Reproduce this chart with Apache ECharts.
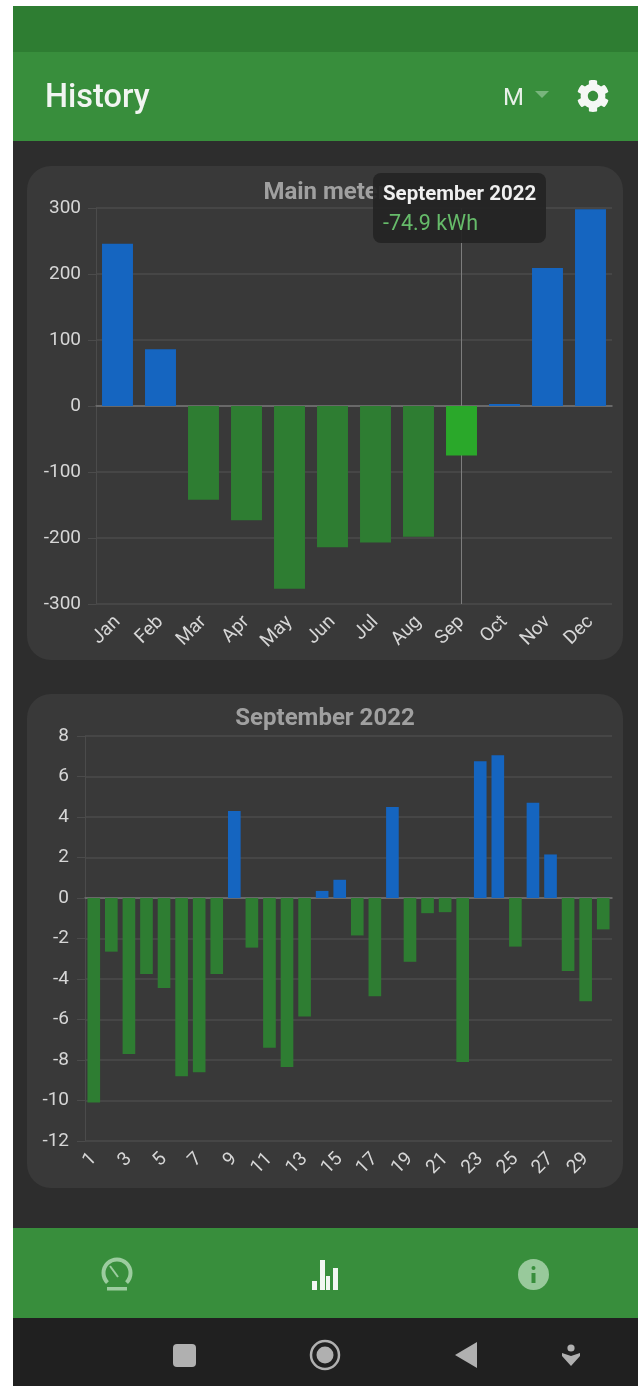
<!DOCTYPE html>
<html><head><meta charset="utf-8">
<style>html,body{margin:0;padding:0;background:#fff}#c{width:638px;height:1386px}</style>
<script src="https://cdn.jsdelivr.net/npm/echarts@6/dist/echarts.min.js"></script>
</head><body><div id="c"></div>
<script>
const monthLabels = ['Jan','Feb','Mar','Apr','May','Jun','Jul','Aug','Sep','Oct','Nov','Dec'];
const monthValues = [246,86,-142,-173,-277,-214,-207,-198,-74.9,3,209,298];
const selectedMonth = 8;
const dayLabels = ['1','2','3','4','5','6','7','8','9','10','11','12','13','14','15','16','17','18','19','20','21','22','23','24','25','26','27','28','29','30'];
const dayValues = [-10.1,-2.65,-7.7,-3.75,-4.45,-8.8,-8.6,-3.75,4.3,-2.45,-7.4,-8.35,-5.85,0.35,0.9,-1.85,-4.85,4.5,-3.15,-0.75,-0.7,-8.1,6.75,7.05,-2.4,4.7,2.15,-3.6,-5.1,-1.55];

const FONT='Roboto';
const BLUE='#1565c0',GREEN='#2e7d32',HILITE='#2aa82a',GRID='#4b4b4b',ZERO='#767676',TXT='#d6d6d6';
const GEAR='M487.4 315.7l-42.6-24.6c4.3-23.2 4.3-47 0-70.2l42.6-24.6c4.9-2.8 7.1-8.6 5.5-14-11.1-35.6-30-67.8-54.7-94.6-3.8-4.1-10-5.1-14.8-2.3L380.8 110c-17.9-15.4-38.5-27.3-60.8-35.1V25.8c0-5.6-3.9-10.5-9.4-11.7-36.7-8.2-74.3-7.8-109.2 0-5.5 1.2-9.4 6.1-9.4 11.7V75c-22.2 7.9-42.8 19.8-60.8 35.1L88.7 85.5c-4.9-2.8-11-1.9-14.8 2.3-24.7 26.7-43.6 58.9-54.7 94.6-1.7 5.4.6 11.2 5.5 14L67.3 221c-4.3 23.2-4.3 47 0 70.2l-42.6 24.6c-4.9 2.8-7.1 8.6-5.5 14 11.1 35.6 30 67.8 54.7 94.6 3.8 4.1 10 5.1 14.8 2.3l42.6-24.6c17.9 15.4 38.5 27.3 60.8 35.1v49.2c0 5.6 3.9 10.5 9.4 11.7 36.7 8.2 74.3 7.8 109.2 0 5.5-1.2 9.4-6.1 9.4-11.7v-49.2c22.2-7.9 42.8-19.8 60.8-35.1l42.6 24.6c4.9 2.8 11 1.9 14.8-2.3 24.7-26.7 43.6-58.9 54.7-94.6 1.5-5.5-.7-11.3-5.6-14.1zM256 336c-44.1 0-80-35.9-80-80s35.9-80 80-80 80 35.9 80 80-35.9 80-80 80z';
echarts.graphic.registerShape('gearIcon',echarts.graphic.extendPath(GEAR,{}));
const chart=echarts.init(document.getElementById('c'),null,{renderer:'canvas'});

const colored=(vals,sel)=>vals.map((v,i)=>({value:v,itemStyle:{color:i===sel?HILITE:(v>=0?BLUE:GREEN)}}));
const rect=(x,y,w,h,fill,r)=>({type:'rect',silent:true,shape:{x,y,width:w,height:h,r:r||0},style:{fill}});
const text=(x,y,t,fs,fw,fill,align)=>({type:'text',silent:true,x,y,style:{text:t,fontFamily:FONT,fontSize:fs,fontWeight:fw,fill,align:align||'left',verticalAlign:'middle'}});

const chrome=[
  rect(13,6,625,1380,'#2d2d2d'),
  rect(13,6,625,46,'#2e7d32'),
  rect(13,52,625,89,'#388e3c'),
  rect(27,166,596,494,'#393939',24),
  rect(27,694,596,494,'#393939',24),
  rect(13,1228,625,90,'#388e3c'),
  rect(13,1318,625,68,'#202020'),
  text(45,99,'History',32.5,500,'#f1f5f1'),
  text(503,99,'M',24,400,'#e8f0e8'),
  {type:'polygon',silent:true,shape:{points:[[535,91],[549,91],[542,98]]},style:{fill:'#79b57d'}},
  {type:'gearIcon',silent:true,x:576.5,y:79.5,scaleX:33/512,scaleY:33/512,style:{fill:'#f5f7f5'}},
  // gauge icon
  {type:'arc',silent:true,shape:{cx:117,cy:1273,r:13.5,startAngle:Math.PI*0.75,endAngle:Math.PI*0.25},style:{stroke:'#9ccc9f',lineWidth:4,fill:null}},
  {type:'line',silent:true,shape:{x1:110,y1:1266,x2:118,y2:1277},style:{stroke:'#9ccc9f',lineWidth:2}},
  rect(107,1287,20,3.5,'#9ccc9f'),
  // bars icon
  rect(312,1281,5,9,'#f2f6f2'),rect(320,1260,5,30,'#f2f6f2'),rect(326,1276,4,14,'#f2f6f2'),rect(333,1268,5,22,'#f2f6f2'),
  // info icon
  {type:'circle',silent:true,shape:{cx:533.5,cy:1274.5,r:15.5},style:{fill:'#98c99b'}},
  rect(531.5,1273,4,10,'#388e3c'),rect(531.5,1266,4,4,'#388e3c',2),
  // android nav
  rect(173,1344,23,23,'#b0b0b0',4),
  {type:'circle',silent:true,shape:{cx:325,cy:1355,r:14},style:{fill:'none',stroke:'#b0b0b0',lineWidth:2.5}},
  {type:'circle',silent:true,shape:{cx:325,cy:1355,r:8.5},style:{fill:'#b0b0b0'}},
  {type:'polygon',silent:true,shape:{points:[[477,1342],[477,1368],[455,1355]]},style:{fill:'#b0b0b0'}},
  {type:'circle',silent:true,shape:{cx:571,cy:1348,r:3.6},style:{fill:'#b0b0b0'}},
  {type:'polygon',silent:true,shape:{points:[[562,1353],[571,1356],[580,1353],[580,1356],[571,1366],[562,1356]]},style:{fill:'#b0b0b0'}}
];

const catAxis=(idx,data,interval,fs,margin)=>({type:'category',gridIndex:idx,data,boundaryGap:true,
  axisLine:{onZero:true,lineStyle:{color:ZERO,width:1.5}},axisTick:{show:false},
  axisLabel:{color:TXT,fontFamily:FONT,fontSize:fs,rotate:45,interval,margin},
  splitLine:{show:false}});
const valAxis=(idx,min,max,interval,margin)=>({type:'value',gridIndex:idx,min,max,interval,
  axisLine:{show:true,lineStyle:{color:GRID}},axisTick:{show:true,length:8,lineStyle:{color:GRID}},
  axisLabel:{color:TXT,fontFamily:FONT,fontSize:19,margin},
  splitLine:{show:true,lineStyle:{color:GRID,width:1.5}}});

chart.setOption({
  animation:false,
  graphic:{elements:chrome.map(e=>Object.assign({z:-10},e))},
  title:[
    {text:'Main meter',left:320,top:176,textAlign:'center',textStyle:{color:'#a0a0a0',fontFamily:FONT,fontSize:24,fontWeight:700}},
    {text:'September 2022',left:320,top:702,textAlign:'center',textStyle:{color:'#a0a0a0',fontFamily:FONT,fontSize:24,fontWeight:700}}
  ],
  grid:[
    {left:96,right:26,top:208,height:396},
    {left:85,right:26,top:736,height:405}
  ],
  xAxis:[catAxis(0,monthLabels,0,19,15),catAxis(1,dayLabels,1,19,15)],
  yAxis:[valAxis(0,-300,300,100,15),valAxis(1,-12,8,2,16)],
  tooltip:{trigger:'axis',alwaysShowContent:true,triggerOn:'none',transitionDuration:0,
    axisPointer:{type:'line',lineStyle:{color:'#7d7d7d',width:1,type:'solid'},z:1},
    backgroundColor:'rgba(36,36,36,0.93)',borderWidth:0,padding:[6,10,6,10],extraCssText:'border-radius:8px;box-shadow:none;box-sizing:border-box;width:173px;height:70px;',
    position:[373,173],
    formatter:p=>`<div style="font:700 20.5px/29px ${FONT};color:#f0f0f0;white-space:nowrap">September 2022</div><div style="font:400 21.5px/29px ${FONT};color:#66bb6a;white-space:nowrap">${p[0].value} kWh</div>`},
  series:[
    {name:'Main meter',type:'bar',xAxisIndex:0,yAxisIndex:0,barWidth:'72%',data:colored(monthValues,selectedMonth),emphasis:{disabled:true}},
    {name:'September 2022',type:'bar',xAxisIndex:1,yAxisIndex:1,barWidth:'72%',data:colored(dayValues,-1),emphasis:{disabled:true},tooltip:{show:false}}
  ]
});
chart.dispatchAction({type:'showTip',seriesIndex:0,dataIndex:selectedMonth});
</script></body></html>
